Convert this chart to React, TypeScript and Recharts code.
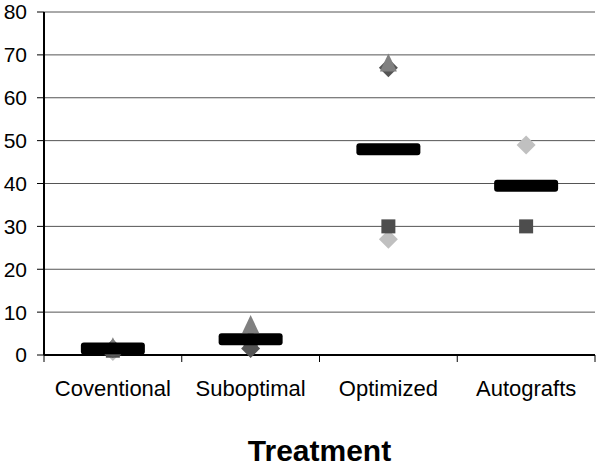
import React from 'react';
import { ComposedChart, Line, XAxis, YAxis, CartesianGrid, Label } from 'recharts';

const categories = ['Coventional', 'Suboptimal', 'Optimized', 'Autografts'];
const lightDiamond: (number | null)[] = [0.8, 3.5, 27, 49];
const darkSquare: (number | null)[] = [1, 3, 30, 30];
const darkDiamond: (number | null)[] = [1.5, 1.5, 67, null];
const grayTriangle: (number | null)[] = [1.8, 7, 68, null];
const meanValue: (number | null)[] = [1.5, 3.7, 48, 39.5];
const yTicks = [0, 10, 20, 30, 40, 50, 60, 70, 80];

const data = categories.map((c, i) => ({
  category: c,
  light: lightDiamond[i],
  square: darkSquare[i],
  dark: darkDiamond[i],
  tri: grayTriangle[i],
  mean: meanValue[i],
}));

const ok = (p: any) =>
  typeof p.cx === 'number' && typeof p.cy === 'number' && !isNaN(p.cy) && p.value != null;

const diamond = (color: string) => (p: any) => {
  if (!ok(p)) return <g key={p.index} />;
  const { cx, cy } = p;
  const r = 9.5;
  return (
    <polygon
      key={p.index}
      points={`${cx},${cy - r} ${cx + r},${cy} ${cx},${cy + r} ${cx - r},${cy}`}
      fill={color}
    />
  );
};

const square = (color: string) => (p: any) => {
  if (!ok(p)) return <g key={p.index} />;
  const { cx, cy } = p;
  return <rect key={p.index} x={cx - 7} y={cy - 7} width={14} height={14} fill={color} />;
};

const triangle = (color: string) => (p: any) => {
  if (!ok(p)) return <g key={p.index} />;
  const { cx, cy } = p;
  return (
    <polygon
      key={p.index}
      points={`${cx},${cy - 10} ${cx + 8.5},${cy + 8} ${cx - 8.5},${cy + 8}`}
      fill={color}
    />
  );
};

const dash = (p: any) => {
  if (!ok(p)) return <g key={p.index} />;
  const { cx, cy } = p;
  return <rect key={p.index} x={cx - 32} y={cy - 6} width={64} height={12} rx={3} ry={3} fill="#000" />;
};

const XTick = (props: any) => {
  const { x, y, payload, index, visibleTicksCount } = props;
  const off = payload && typeof payload.offset === 'number' ? payload.offset : 0;
  return (
    <g>
      <line x1={x - off} x2={x - off} y1={y} y2={y + 7} stroke="#000" strokeWidth={1} />
      {index === visibleTicksCount - 1 && (
        <line x1={x + off} x2={x + off} y1={y} y2={y + 7} stroke="#000" strokeWidth={1} />
      )}
      <text x={x} y={y + 41} textAnchor="middle" fontSize={22} fill="#000">
        {payload.value}
      </text>
    </g>
  );
};

export default function App() {
  return (
    <div
      style={{
        fontFamily: '"Liberation Sans", Arial, sans-serif',
        position: 'absolute',
        left: 0,
        top: 0,
        width: 600,
        height: 466,
      }}
    >
      <ComposedChart
        width={600}
        height={466}
        data={data}
        margin={{ top: 12, right: 5, bottom: 0, left: 0 }}
      >
        <CartesianGrid vertical={false} stroke="#555" strokeWidth={1} />
        <XAxis
          dataKey="category"
          scale="band"
          height={111}
          tickLine={false}
          tickSize={0}
          tickMargin={0}
          axisLine={{ stroke: '#000', strokeWidth: 2 }}
          tick={<XTick />}
          interval={0}
        >
          <Label
            value="Treatment"
            position="insideBottom"
            offset={5}
            style={{ fontSize: 30, fontWeight: 'bold', fill: '#000' }}
          />
        </XAxis>
        <YAxis
          domain={[0, 80]}
          ticks={yTicks}
          interval={0}
          width={44}
          tickSize={7}
          tickMargin={10}
          axisLine={{ stroke: '#000', strokeWidth: 2 }}
          tickLine={{ stroke: '#000' }}
          tick={{ fontSize: 21, fill: '#000' }}
        />
        <YAxis
          yAxisId="r"
          orientation="right"
          width={0}
          tick={false}
          tickLine={false}
          axisLine={{ stroke: '#000', strokeWidth: 2 }}
        />
        <Line dataKey="light" stroke="none" isAnimationActive={false} dot={diamond('#c0c0c0')} activeDot={false} />
        <Line dataKey="square" stroke="none" isAnimationActive={false} dot={square('#4d4d4d')} activeDot={false} />
        <Line dataKey="dark" stroke="none" isAnimationActive={false} dot={diamond('#555555')} activeDot={false} />
        <Line dataKey="tri" stroke="none" isAnimationActive={false} dot={triangle('#808080')} activeDot={false} />
        <Line dataKey="mean" stroke="none" isAnimationActive={false} dot={dash} activeDot={false} />
      </ComposedChart>
    </div>
  );
}
